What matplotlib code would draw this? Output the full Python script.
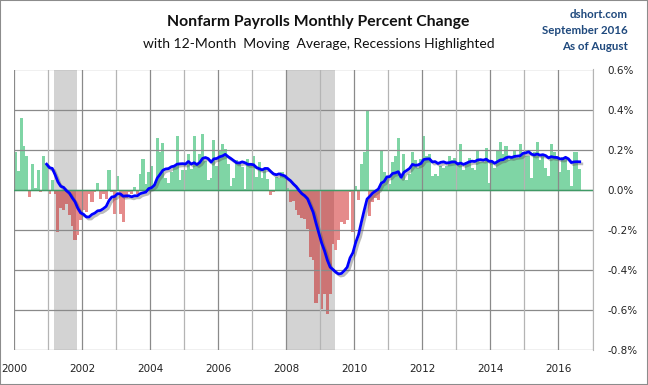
import matplotlib
matplotlib.use("Agg")
import matplotlib.pyplot as plt
import matplotlib.patheffects as pe
from matplotlib.patches import Rectangle
import numpy as np
import pandas as pd

# monthly percent change, nonfarm payrolls
pct_2000 = [0.19, 0.095, 0.36, 0.22, 0.17, -0.035, 0.13, 0.01, 0.10, -0.01, 0.17, 0.13]
pct_2001 = [-0.02, 0.05, -0.02, -0.21, -0.09, -0.10, -0.07, -0.125, -0.18, -0.25, -0.225, -0.15]
pct_2002 = [-0.10, -0.11, -0.02, -0.06, -0.01, 0.035, -0.045, -0.02, -0.045, 0.10, -0.01, -0.12]
pct_2003 = [0.067, -0.12, -0.16, -0.04, -0.01, -0.02, 0.015, -0.02, 0.08, 0.155, 0.03, 0.09]
pct_2004 = [0.12, 0.03, 0.26, 0.19, 0.235, 0.06, 0.035, 0.09, 0.12, 0.27, 0.05, 0.10]
pct_2005 = [0.10, 0.18, 0.105, 0.27, 0.13, 0.18, 0.28, 0.145, 0.05, 0.06, 0.25, 0.12]
pct_2006 = [0.20, 0.23, 0.205, 0.13, 0.017, 0.057, 0.15, 0.135, 0.115, 0.004, 0.155, 0.125]
pct_2007 = [0.17, 0.065, 0.137, 0.057, 0.105, 0.052, -0.024, -0.012, 0.062, 0.06, 0.086, 0.07]
pct_2008 = [0.011, -0.063, -0.058, -0.10, -0.128, -0.14, -0.145, -0.195, -0.337, -0.353, -0.567, -0.52]
pct_2009 = [-0.595, -0.52, -0.62, -0.52, -0.27, -0.30, -0.25, -0.16, -0.17, -0.15, -0.01, -0.21]
pct_2010 = [0.02, -0.05, 0.13, 0.19, 0.40, -0.13, -0.06, -0.04, -0.05, 0.20, 0.09, 0.07]
pct_2011 = [0.03, 0.14, 0.17, 0.26, 0.055, 0.18, 0.05, 0.08, 0.19, 0.15, 0.11, 0.155]
pct_2012 = [0.27, 0.17, 0.18, 0.07, 0.08, 0.066, 0.12, 0.11, 0.12, 0.17, 0.15, 0.16]
pct_2013 = [0.14, 0.23, 0.10, 0.14, 0.16, 0.11, 0.10, 0.20, 0.14, 0.14, 0.21, 0.033]
pct_2014 = [0.14, 0.11, 0.20, 0.24, 0.18, 0.22, 0.15, 0.17, 0.20, 0.16, 0.23, 0.18]
pct_2015 = [0.17, 0.17, 0.06, 0.19, 0.24, 0.15, 0.18, 0.11, 0.07, 0.23, 0.19, 0.17]
pct_2016 = [0.09, 0.165, 0.155, 0.10, 0.017, 0.19, 0.19, 0.105]

pct = (pct_2000 + pct_2001 + pct_2002 + pct_2003 + pct_2004 + pct_2005 +
       pct_2006 + pct_2007 + pct_2008 + pct_2009 + pct_2010 + pct_2011 +
       pct_2012 + pct_2013 + pct_2014 + pct_2015 + pct_2016)

recessions = [(2001.17, 2001.85), (2008.0, 2009.42)]
ytick_vals = [-0.8, -0.6, -0.4, -0.2, 0.0, 0.2, 0.4, 0.6]
year_labels = list(range(2000, 2017, 2))

months = pd.date_range("2000-01-01", periods=len(pct), freq="MS")
x = months.year + (months.month - 0.5) / 12
ma = pd.Series(pct).rolling(12).mean()

def in_recession(v):
    return any(a <= v <= b for a, b in recessions)

colors = []
for xi, v in zip(x, pct):
    if v >= 0:
        colors.append("#7fd5a5")
    elif in_recession(xi):
        colors.append("#cc7474")
    else:
        colors.append("#e58b8b")

fig = plt.figure(figsize=(6.48, 3.85), dpi=100)
ax = fig.add_axes([14 / 648, 35 / 385, 578.5 / 648, 280.5 / 385])

for a, b in recessions:
    ax.axvspan(a, b, color="#d3d3d3", lw=0, zorder=0.5)

ax.bar(x, pct, width=1.08 / 12, color=colors, lw=0, zorder=1)

# gridlines drawn by hand so even / odd years get different greys
for y in ytick_vals:
    ax.axhline(y, color="#8a8a8a", lw=0.9, zorder=2)
for yr in range(2000, 2018):
    ax.axvline(yr, color="#8a8a8a" if yr % 2 == 0 else "#b4b4b4", lw=0.9, zorder=2)
ax.axhline(0, color="#3f9a66", lw=1, zorder=2.5)

ax.plot(x, ma, color="#0000ff", lw=2, zorder=4,
        path_effects=[pe.SimpleLineShadow(offset=(1.5, -1.5), shadow_color="#555555", alpha=0.4),
                      pe.Normal()])

ax.set_xlim(2000, 2017)
ax.set_ylim(-0.8, 0.6)
ax.yaxis.tick_right()
ax.set_yticks(ytick_vals)
ax.set_yticklabels([f"{v:.1f}%" for v in ytick_vals])
ax.set_xticks(year_labels)
ax.set_xticklabels([str(y) for y in year_labels])
ax.tick_params(axis="y", length=0, pad=11, labelsize=7.5, colors="#222222")
ax.tick_params(axis="x", length=0, pad=10, labelsize=7.5, colors="#222222")
for s in ["left", "top", "bottom"]:
    ax.spines[s].set_visible(False)
ax.spines["right"].set_color("#b4b4b4")

fig.text(318 / 648, 1 - 22 / 385, "Nonfarm Payrolls Monthly Percent Change",
         ha="center", va="center", fontsize=11.3, fontweight="bold", family="Lato", color="#111111")
fig.text(319 / 648, 1 - 43.5 / 385, "with 12-Month  Moving  Average, Recessions Highlighted",
         ha="center", va="center", fontsize=10, family="Lato", color="#111111")
for yy, t in [(15, "dshort.com"), (31, "September 2016"), (46.5, "As of August")]:
    fig.text(628 / 648, 1 - yy / 385, t, ha="right", va="center", fontsize=8.3,
             fontweight="bold", family="Lato", color="#1f497d")

fig.patches.append(Rectangle((0, 0), 1, 1, transform=fig.transFigure, fill=False,
                             edgecolor="#8c8c8c", lw=1.5))

fig.savefig("out.png", dpi=100)
